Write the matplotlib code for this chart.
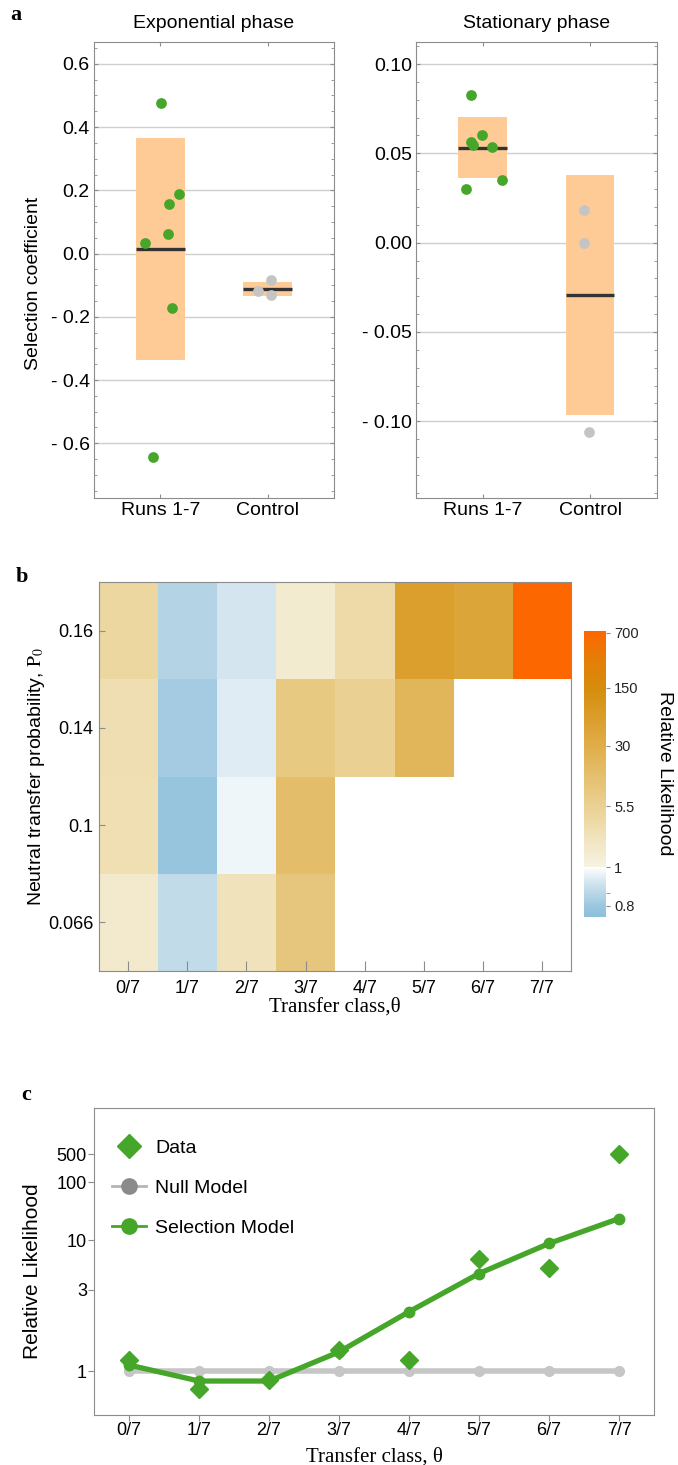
import numpy as np
import matplotlib
matplotlib.use('Agg')
import matplotlib.pyplot as plt
from matplotlib import font_manager
from matplotlib.colors import LinearSegmentedColormap, FuncNorm
from matplotlib.lines import Line2D

# ---- data ----
# panel a, exponential phase
exp_runs = [0.477, 0.188, 0.157, 0.035, 0.061, -0.172, -0.643]
exp_runs_jitter = [0.006, 0.173, 0.08, -0.146, 0.074, 0.108, -0.072]
exp_ctrl = [-0.118, -0.084, -0.132]
exp_ctrl_jitter = [-0.085, 0.034, 0.034]
exp_box_lo = [-0.335, -0.134]
exp_box_hi = [0.365, -0.089]
exp_median = [0.015, -0.113]

# panel a, stationary phase
stat_runs = [0.0826, 0.0603, 0.0565, 0.0547, 0.0535, 0.0351, 0.030]
stat_runs_jitter = [-0.108, -0.006, -0.105, -0.089, 0.087, 0.183, -0.154]
stat_ctrl = [0.018, 0.0, -0.106]
stat_ctrl_jitter = [-0.056, -0.056, -0.01]
stat_box_lo = [0.036, -0.0965]
stat_box_hi = [0.0703, 0.0379]
stat_median = [0.0532, -0.0293]

groups = ['Runs 1-7', 'Control']

# panel b, relative likelihood grid (rows: p0 bottom -> top)
theta_labels = ['0/7', '1/7', '2/7', '3/7', '4/7', '5/7', '6/7', '7/7']
p0_labels = ['0.066', '0.1', '0.14', '0.16']
nan = np.nan
rl_p066 = [1.6, 0.88, 2.3, 9.0, nan, nan, nan, nan]
rl_p10 = [2.7, 0.79, 0.97, 14.0, nan, nan, nan, nan]
rl_p14 = [2.8, 0.82, 0.94, 8.0, 5.5, 20.0, nan, nan]
rl_p16 = [4.0, 0.85, 0.92, 1.5, 3.5, 60.0, 45.0, 700.0]
cbar_ticks = [0.8, 1, 5.5, 30, 150, 700]

# panel c
data_rl = [1.11, 0.84, 0.92, 1.23, 1.11, 5.9, 4.78, 533]
null_rl = [1, 1, 1, 1, 1, 1, 1, 1]
sel_rl = [1.058, 0.909, 0.909, 1.21, 2.05, 4.2, 9.05, 20.5]
c_yticks = [1, 3, 10, 100, 500]

# ---- style ----
names = {f.name for f in font_manager.fontManager.ttflist}
narrow = 'Liberation Sans Narrow' if 'Liberation Sans Narrow' in names else 'Liberation Sans'
nsize = 15 if narrow == 'Liberation Sans Narrow' else 13
plt.rcParams['font.family'] = ['Liberation Sans', 'DejaVu Sans']
plt.rcParams['mathtext.fontset'] = 'stix'
serif = ['Liberation Serif', 'DejaVu Serif']

green = '#45a62a'
grey_pt = '#c4c4c4'
peach = '#fecb97'
frame = '#8c8c8c'

W, H = 678, 1465
fig = plt.figure(figsize=(W / 100, H / 100), dpi=100)


def rect(l, t, r, b):
    return [l / W, 1 - b / H, (r - l) / W, (b - t) / H]


def dash_fmt(v, nd):
    s = f'{abs(v):.{nd}f}'
    return ('- ' + s) if v < -1e-9 else s


def strip_panel(ax, runs, runs_j, ctrl, ctrl_j, lo, hi, med, ylim, major, minor, nd, title):
    xs = np.arange(1, 3)
    ax.bar(xs, np.array(hi) - np.array(lo), bottom=lo, width=0.45, color=peach, zorder=1)
    for x, m in zip(xs, med):
        ax.plot([x - 0.225, x + 0.225], [m, m], color='#333333', lw=2.4, zorder=2, solid_capstyle='butt')
    ax.scatter(1 + np.array(runs_j), runs, s=60, color=green, zorder=3, linewidths=0)
    ax.scatter(2 + np.array(ctrl_j), ctrl, s=60, color=grey_pt, zorder=3, linewidths=0)
    ax.set_xlim(0.38, 2.62)
    ax.set_ylim(*ylim)
    ax.set_yticks(major)
    ax.set_yticklabels([dash_fmt(v, nd) for v in major], fontsize=14)
    ax.set_yticks(minor, minor=True)
    ax.set_xticks(xs)
    ax.set_xticklabels(groups, fontsize=14)
    ax.yaxis.grid(True, color='#cfcfcf', lw=1)
    ax.set_axisbelow(True)
    ax.tick_params(which='both', direction='in', colors=frame, labelcolor='black',
                   left=True, right=True, top=True, bottom=True, length=3, pad=3)
    ax.tick_params(which='minor', length=2)
    for sp in ax.spines.values():
        sp.set_color(frame)
    ax.set_title(title, fontsize=14, pad=10)


# ---- panel a ----
ax1 = fig.add_axes(rect(94, 41.7, 334, 497.7))
strip_panel(ax1, exp_runs, exp_runs_jitter, exp_ctrl, exp_ctrl_jitter,
            exp_box_lo, exp_box_hi, exp_median, (-0.772, 0.67),
            [0.6, 0.4, 0.2, 0.0, -0.2, -0.4, -0.6], np.arange(-0.75, 0.66, 0.05), 1,
            'Exponential phase')
ax1.set_ylabel('Selection coefficient', fontsize=14)
ax1.yaxis.set_label_coords(-0.215, 0.47)

ax2 = fig.add_axes(rect(416, 41.7, 656.7, 497.7))
strip_panel(ax2, stat_runs, stat_runs_jitter, stat_ctrl, stat_ctrl_jitter,
            stat_box_lo, stat_box_hi, stat_median, (-0.1428, 0.1125),
            [0.10, 0.05, 0.0, -0.05, -0.10], np.arange(-0.14, 0.111, 0.01), 2,
            'Stationary phase')

# ---- panel b ----
A_UP, B_DN = 35.8, 173.4


def rl_fwd(v):
    v = np.maximum(np.asarray(v, dtype=float), 1e-6)
    lv = np.log(v)
    return np.where(lv >= 0, lv * A_UP, lv * B_DN)


def rl_inv(t):
    t = np.asarray(t, dtype=float)
    return np.where(t >= 0, np.exp(t / A_UP), np.exp(t / B_DN))


cmap = LinearSegmentedColormap.from_list('rl', [
    (0.0, '#8ebfdb'), (0.0374, '#9bc7df'), (0.12, '#d3e5ef'), (0.1727, '#ffffff'),
    (0.1735, '#f7f3e2'), (0.386, '#ead193'), (0.6, '#dfad48'), (0.8, '#d68d0c'),
    (0.9, '#e57d06'), (1.0, '#ff6600')], N=512)
cmap.set_bad('white')
norm = FuncNorm((rl_fwd, rl_inv), vmin=0.752, vmax=742)

grid = np.ma.masked_invalid(np.array([rl_p066, rl_p10, rl_p14, rl_p16]))
axb = fig.add_axes(rect(98.7, 582.3, 571.4, 970.7))
im = axb.imshow(grid, origin='lower', aspect='auto', cmap=cmap, norm=norm,
                extent=(-0.5, 7.5, -0.5, 3.5), interpolation='nearest')
axb.set_xticks(range(len(theta_labels)))
axb.set_xticklabels(theta_labels, family=narrow, fontsize=nsize)
axb.set_yticks(range(len(p0_labels)))
axb.set_yticklabels(p0_labels, family=narrow, fontsize=nsize)
axb.tick_params(axis='x', direction='in', length=7, colors=frame, labelcolor='black', pad=7)
axb.tick_params(axis='y', direction='in', length=4, colors=frame, labelcolor='black', pad=4)
for sp in axb.spines.values():
    sp.set_color(frame)
axb.set_xlabel('Transfer class,θ', family=serif, fontsize=15, labelpad=0)
axb.set_ylabel(r'Neutral transfer probability, $\mathrm{P}_0$', fontsize=14)
axb.yaxis.set_label_coords(-0.11, 0.5)

cax = fig.add_axes(rect(584, 630.7, 605.7, 916.7))
cb = fig.colorbar(im, cax=cax)
cb.outline.set_visible(False)
cb.set_ticks(cbar_ticks)
cb.set_ticklabels([f'{t:g}' for t in cbar_ticks])
cb.ax.yaxis.set_minor_locator(matplotlib.ticker.FixedLocator([0.86]))
cb.ax.tick_params(which='both', length=3, colors=frame, labelcolor='#222222', labelsize=10.5, pad=3)
cb.set_label('Relative Likelihood', rotation=-90, fontsize=14, labelpad=25)

# ---- panel c ----
def c_fwd(x):
    lx = np.log(np.maximum(np.asarray(x, dtype=float), 1e-12))
    return np.sign(lx) * np.log1p(np.abs(lx))


def c_inv(y):
    y = np.clip(np.asarray(y, dtype=float), -5, 5)
    return np.exp(np.sign(y) * np.expm1(np.abs(y)))


axc = fig.add_axes(rect(94, 1108, 654, 1415))
axc.set_yscale('function', functions=(c_fwd, c_inv))
xs = np.arange(len(theta_labels))
axc.plot(xs, null_rl, color='#c6c6c6', lw=4, marker='o', ms=7, mfc='#c6c6c6', mec='#c6c6c6', zorder=2)
axc.plot(xs, sel_rl, color=green, lw=3.8, marker='o', ms=7.5, zorder=3)
axc.plot(xs, data_rl, ls='none', marker='D', ms=9, color=green, zorder=4)
axc.set_xlim(-0.5, 7.5)
axc.set_ylim(0.6105, 22600)
axc.set_yticks(c_yticks)
axc.set_yticklabels([str(v) for v in c_yticks], family=narrow, fontsize=nsize)
axc.yaxis.set_minor_locator(matplotlib.ticker.NullLocator())
axc.set_xticks(xs)
axc.set_xticklabels(theta_labels, family=narrow, fontsize=nsize)
axc.tick_params(direction='out', length=4, colors=frame, labelcolor='black', pad=1)
for sp in axc.spines.values():
    sp.set_color(frame)
axc.set_ylabel('Relative Likelihood', fontsize=15)
axc.yaxis.set_label_coords(-0.093, 0.47)
axc.set_xlabel('Transfer class, θ', family=serif, fontsize=15, labelpad=6)

handles = [
    Line2D([], [], ls='none', marker='D', ms=12.5, color=green),
    Line2D([], [], color='#b4b4b4', lw=2, marker='o', ms=11, mfc='#8a8a8a', mec='#8a8a8a'),
    Line2D([], [], color=green, lw=2, marker='o', ms=11),
]
axc.legend(handles, ['Data', 'Null Model', 'Selection Model'], loc='upper left',
           bbox_to_anchor=(0.0, 0.955), frameon=False, fontsize=14,
           handlelength=1.75, handletextpad=0.5, labelspacing=1.15)

# panel letters
for lab, x, y in [('a', 16, 15), ('b', 22, 577), ('c', 26, 1095)]:
    fig.text(x / W, 1 - y / H, lab, family=serif, fontweight='bold', fontsize=16,
             ha='center', va='center')

fig.savefig('out.png', dpi=100)
